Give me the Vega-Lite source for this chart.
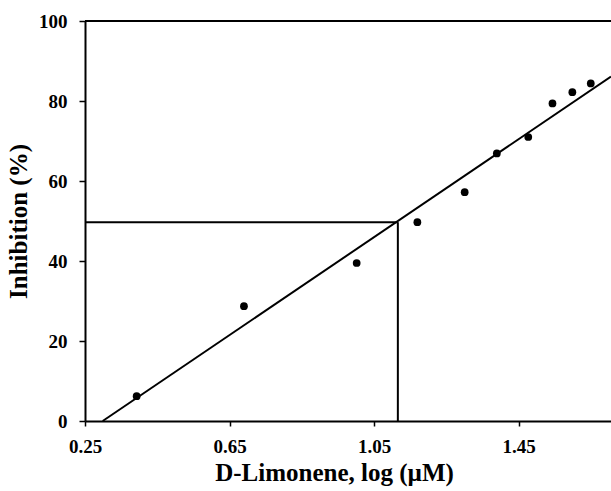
{
  "$schema": "https://vega.github.io/schema/vega-lite/v6.json",
  "width": 526,
  "height": 400,
  "autosize": "none",
  "padding": {"left": 85, "top": 21, "right": 0, "bottom": 70},
  "background": "white",
  "config": {
    "view": {"stroke": null},
    "font": "Liberation Serif",
    "axis": {
      "domainColor": "black",
      "domainWidth": 2,
      "tickColor": "black",
      "tickWidth": 1.5,
      "labelColor": "black",
      "labelFont": "Liberation Serif",
      "labelFontWeight": "bold",
      "labelFontSize": 19,
      "labelFlush": false,
      "titleFont": "Liberation Serif",
      "titleFontWeight": "bold",
      "titleColor": "black",
      "grid": false
    }
  },
  "datasets": {
    "points": [
      {"logConc": 0.393, "inhibition": 6.2},
      {"logConc": 0.690, "inhibition": 28.7},
      {"logConc": 1.002, "inhibition": 39.5},
      {"logConc": 1.170, "inhibition": 49.7},
      {"logConc": 1.301, "inhibition": 57.2},
      {"logConc": 1.390, "inhibition": 66.9},
      {"logConc": 1.477, "inhibition": 71.0},
      {"logConc": 1.544, "inhibition": 79.4},
      {"logConc": 1.599, "inhibition": 82.2},
      {"logConc": 1.650, "inhibition": 84.4}
    ],
    "segments": [
      {"name": "fit", "x": 0.299, "y": 0, "x2": 1.706, "y2": 86.1},
      {"name": "ic50h", "x": 0.25, "y": 49.7, "x2": 1.116, "y2": 49.7},
      {"name": "ic50v", "x": 1.116, "y": 0, "x2": 1.116, "y2": 49.7},
      {"name": "top", "x": 0.25, "y": 100, "x2": 1.706, "y2": 100}
    ]
  },
  "layer": [
    {
      "data": {"name": "segments"},
      "mark": {"type": "rule", "color": "black", "strokeWidth": 2},
      "encoding": {
        "x": {
          "field": "x", "type": "quantitative",
          "scale": {"domain": [0.25, 1.706], "nice": false, "zero": false},
          "axis": {
            "values": [0.25, 0.65, 1.05, 1.45],
            "format": ".2f",
            "tickSize": 5,
            "labelPadding": 11,
            "title": "D-Limonene, log (µM)",
            "titleFontSize": 25,
            "titlePadding": 4,
            "titleX": 249
          }
        },
        "x2": {"field": "x2"},
        "y": {
          "field": "y", "type": "quantitative",
          "scale": {"domain": [0, 100], "nice": false},
          "axis": {
            "values": [0, 20, 40, 60, 80, 100],
            "tickSize": 6,
            "labelPadding": 12,
            "title": "Inhibition (%)",
            "titleFontSize": 25,
            "titlePadding": 7
          }
        },
        "y2": {"field": "y2"}
      }
    },
    {
      "data": {"name": "points"},
      "mark": {"type": "circle", "color": "black", "opacity": 1, "size": 60},
      "encoding": {
        "x": {"field": "logConc", "type": "quantitative"},
        "y": {"field": "inhibition", "type": "quantitative"}
      }
    }
  ]
}
